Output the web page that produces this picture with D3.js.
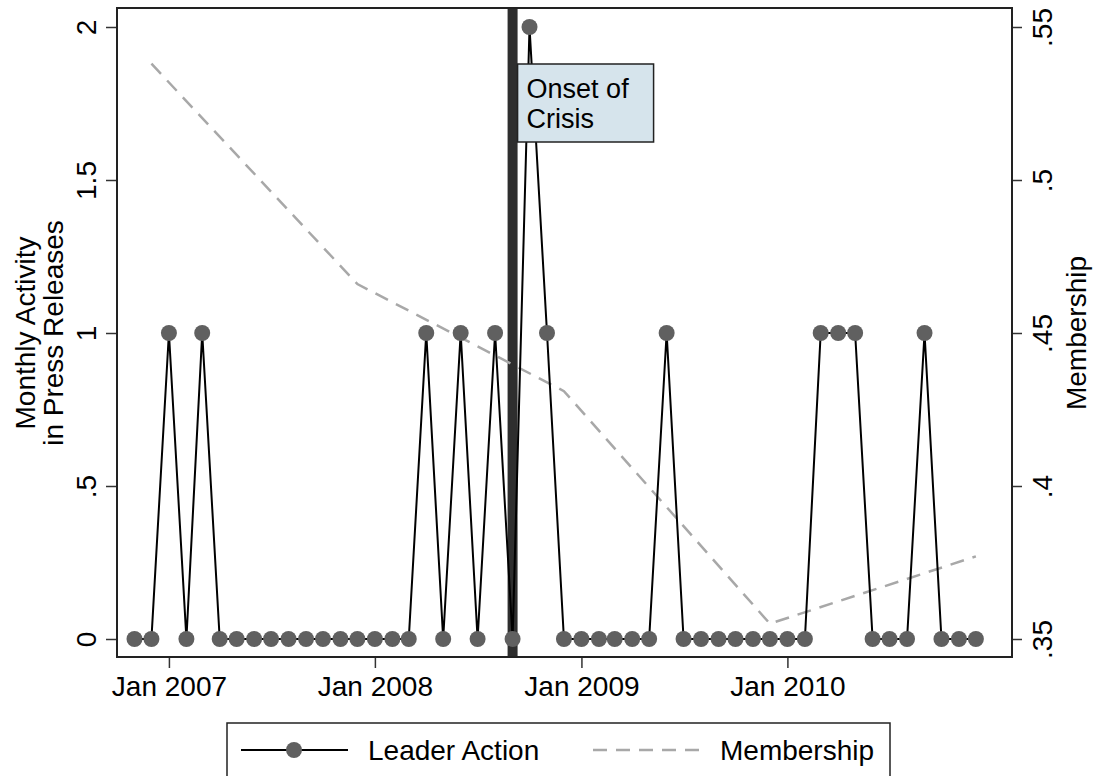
<!DOCTYPE html>
<html>
<head>
<meta charset="utf-8">
<script src="https://cdn.jsdelivr.net/npm/d3@7"></script>
<style>
  body { margin: 0; background: #fff; }
  svg text { font-family: "Liberation Sans", Arial, Helvetica, sans-serif; fill: #000; }
</style>
</head>
<body>
<div id="chart"></div>
<script>
// --- data ---
const months = [
  "2006-11", "2006-12",
  "2007-01", "2007-02", "2007-03", "2007-04", "2007-05", "2007-06",
  "2007-07", "2007-08", "2007-09", "2007-10", "2007-11", "2007-12",
  "2008-01", "2008-02", "2008-03", "2008-04", "2008-05", "2008-06",
  "2008-07", "2008-08", "2008-09", "2008-10", "2008-11", "2008-12",
  "2009-01", "2009-02", "2009-03", "2009-04", "2009-05", "2009-06",
  "2009-07", "2009-08", "2009-09", "2009-10", "2009-11", "2009-12",
  "2010-01", "2010-02", "2010-03", "2010-04", "2010-05", "2010-06",
  "2010-07", "2010-08", "2010-09", "2010-10", "2010-11", "2010-12"
];
const leaderAction = [
  0, 0,
  1, 0, 1, 0, 0, 0, 0, 0, 0, 0, 0, 0,
  0, 0, 0, 1, 0, 1, 0, 1, 0, 2, 1, 0,
  0, 0, 0, 0, 0, 1, 0, 0, 0, 0, 0, 0,
  0, 0, 1, 1, 1, 0, 0, 0, 1, 0, 0, 0
];
const membershipMonths = ["2006-12", "2007-12", "2008-12", "2009-12", "2010-12"];
const membership = [0.538, 0.466, 0.431, 0.355, 0.377];

const crisisMonth = "2008-09";
const crisisLabel = ["Onset of", "Crisis"];

const leftTicks = [0, 0.5, 1, 1.5, 2];
const rightTicks = [0.35, 0.4, 0.45, 0.5, 0.55];
const xTicks = ["2007-01", "2008-01", "2009-01", "2010-01"];

// --- layout ---
const width = 1093, height = 776;
const frame = { left: 117, right: 1012, top: 8, bottom: 657 };
const parseMonth = d3.timeParse("%Y-%m");
const fontSize = 28;

const svg = d3.select("#chart")
  .append("svg")
  .attr("width", width)
  .attr("height", height);

svg.append("rect").attr("width", width).attr("height", height).attr("fill", "#fff");

// scales
const x = d3.scaleTime()
  .domain([new Date(2006, 9, 1), new Date(2011, 1, 3)])
  .range([frame.left, frame.right]);
const yL = d3.scaleLinear().domain([0, 2]).range([639, 27]);
const yR = d3.scaleLinear().domain([0.35, 0.55]).range([639, 27]);

// Stata style: ".5" instead of "0.5"
const dotFmt = d => d === 0 ? "0" : String(d).replace(/^0\./, ".");

// Left axis
const gL = svg.append("g")
  .attr("transform", `translate(${frame.left},0)`)
  .call(d3.axisLeft(yL).tickValues(leftTicks).tickSize(11).tickFormat(dotFmt));
gL.select(".domain").remove();
gL.selectAll(".tick line").attr("stroke", "#333").attr("stroke-width", 1.5);
gL.selectAll(".tick text")
  .attr("x", null).attr("dy", null)
  .attr("transform", "translate(-21,0) rotate(-90)")
  .attr("text-anchor", "middle")
  .style("font-size", fontSize + "px");

// Right axis
const gR = svg.append("g")
  .attr("transform", `translate(${frame.right},0)`)
  .call(d3.axisRight(yR).tickValues(rightTicks).tickSize(10).tickFormat(dotFmt));
gR.select(".domain").remove();
gR.selectAll(".tick line").attr("stroke", "#333").attr("stroke-width", 1.5);
gR.selectAll(".tick text")
  .attr("x", null).attr("dy", null)
  .attr("transform", "translate(40,0) rotate(-90)")
  .attr("text-anchor", "middle")
  .style("font-size", fontSize + "px");

// X axis
const gX = svg.append("g")
  .attr("transform", `translate(0,${frame.bottom})`)
  .call(d3.axisBottom(x).tickValues(xTicks.map(parseMonth)).tickSize(11)
    .tickFormat(d3.timeFormat("%b %Y")));
gX.select(".domain").remove();
gX.selectAll(".tick line").attr("stroke", "#333").attr("stroke-width", 1.5);
gX.selectAll(".tick text")
  .attr("y", 39).attr("dy", null)
  .style("font-size", fontSize + "px");

// axis titles
const midY = (yL(0) + yL(2)) / 2;
svg.append("text")
  .attr("transform", `translate(35,${midY}) rotate(-90)`)
  .attr("text-anchor", "middle")
  .style("font-size", fontSize + "px")
  .text("Monthly Activity");
svg.append("text")
  .attr("transform", `translate(63,${midY}) rotate(-90)`)
  .attr("text-anchor", "middle")
  .style("font-size", fontSize + "px")
  .text("in Press Releases");
svg.append("text")
  .attr("transform", `translate(1086,${midY}) rotate(-90)`)
  .attr("text-anchor", "middle")
  .style("font-size", fontSize + "px")
  .text("Membership");

// crisis bar
svg.append("line")
  .attr("x1", x(parseMonth(crisisMonth))).attr("x2", x(parseMonth(crisisMonth)))
  .attr("y1", frame.top).attr("y2", frame.bottom)
  .attr("stroke", "#2e2e2e")
  .attr("stroke-width", 10);

// membership dashed line
const memData = membershipMonths.map((m, i) => ({ date: parseMonth(m), value: membership[i] }));
svg.append("path")
  .datum(memData)
  .attr("d", d3.line().x(d => x(d.date)).y(d => yR(d.value)))
  .attr("fill", "none")
  .attr("stroke", "#a8a8a8")
  .attr("stroke-width", 2.5)
  .attr("stroke-dasharray", "14,9");

// leader action line + markers
const leaderData = months.map((m, i) => ({ date: parseMonth(m), value: leaderAction[i] }));
svg.append("path")
  .datum(leaderData)
  .attr("d", d3.line().x(d => x(d.date)).y(d => yL(d.value)))
  .attr("fill", "none")
  .attr("stroke", "#000")
  .attr("stroke-width", 2);
svg.selectAll(".dot")
  .data(leaderData)
  .enter()
  .append("circle")
  .attr("class", "dot")
  .attr("cx", d => x(d.date))
  .attr("cy", d => yL(d.value))
  .attr("r", 8)
  .attr("fill", "#606060");

// crisis label box
const bx = x(parseMonth(crisisMonth)) + 5;
svg.append("rect")
  .attr("x", bx).attr("y", 64)
  .attr("width", 136).attr("height", 78)
  .attr("fill", "#d6e4ec")
  .attr("stroke", "#222")
  .attr("stroke-width", 1.5);
crisisLabel.forEach((t, i) => {
  svg.append("text")
    .attr("x", bx + 9)
    .attr("y", 98 + i * 30)
    .style("font-size", "27px")
    .text(t);
});

// frame
svg.append("rect")
  .attr("x", frame.left).attr("y", frame.top)
  .attr("width", frame.right - frame.left)
  .attr("height", frame.bottom - frame.top)
  .attr("fill", "none")
  .attr("stroke", "#222")
  .attr("stroke-width", 2);

// legend
const lg = svg.append("g");
lg.append("rect")
  .attr("x", 227).attr("y", 723)
  .attr("width", 663).attr("height", 80)
  .attr("fill", "#fff")
  .attr("stroke", "#222")
  .attr("stroke-width", 1.5);
const ly = 750;
lg.append("line")
  .attr("x1", 241).attr("x2", 348).attr("y1", ly).attr("y2", ly)
  .attr("stroke", "#000").attr("stroke-width", 2);
lg.append("circle").attr("cx", 294).attr("cy", ly).attr("r", 8).attr("fill", "#606060");
lg.append("text").attr("x", 368).attr("y", ly + 10)
  .style("font-size", fontSize + "px").text("Leader Action");
lg.append("line")
  .attr("x1", 593).attr("x2", 703).attr("y1", ly).attr("y2", ly)
  .attr("stroke", "#a8a8a8").attr("stroke-width", 2.5)
  .attr("stroke-dasharray", "14,9");
lg.append("text").attr("x", 720).attr("y", ly + 10)
  .style("font-size", fontSize + "px").text("Membership");
</script>
</body>
</html>
